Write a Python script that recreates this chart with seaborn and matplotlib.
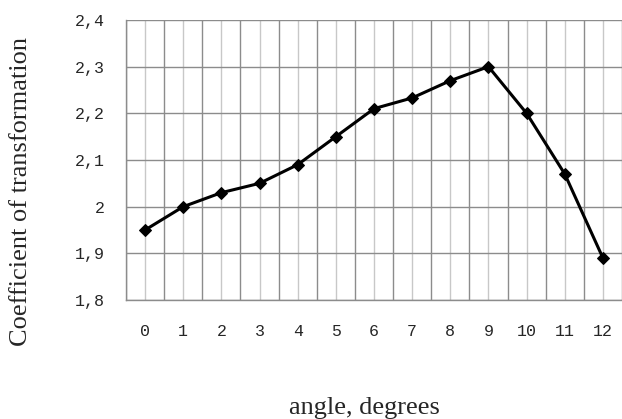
import matplotlib
matplotlib.use("Agg")
import matplotlib.pyplot as plt
import numpy as np
import pandas as pd
import seaborn as sns

# Data
angles = [0, 1, 2, 3, 4, 5, 6, 7, 8, 9, 10, 11, 12]
coefficient = [1.95, 2.00, 2.03, 2.05, 2.09, 2.15, 2.21, 2.233, 2.27, 2.30, 2.20, 2.07, 1.89]
y_ticks = [1.8, 1.9, 2.0, 2.1, 2.2, 2.3, 2.4]
y_labels = ["1,8", "1,9", "2", "2,1", "2,2", "2,3", "2,4"]

df = pd.DataFrame({"angle": angles, "coef": coefficient})

sns.set_style("white")
plt.rcParams["font.family"] = ["Liberation Serif", "DejaVu Serif"]

fig = plt.figure(figsize=(6.22, 4.19), dpi=100)
ax = fig.add_axes([126 / 622, 119 / 419, 496 / 622, 280 / 419])

sns.lineplot(data=df, x="angle", y="coef", color="black", linewidth=2.2,
             marker="D", markersize=6, markeredgecolor="black", ax=ax, zorder=5)

ax.set_xlim(-0.5, 12.39)
ax.set_ylim(1.8, 2.4)

tick_font = {"family": "Liberation Mono", "size": 12}

# labels at category centres, tick marks at category boundaries
ax.set_xticks(angles)
ax.set_xticklabels([str(a) for a in angles], fontdict=tick_font)
ax.set_xticks(np.arange(-0.5, 13, 1), minor=True)
ax.tick_params(axis="x", which="major", length=0, pad=17)
ax.tick_params(axis="x", which="minor", length=6, width=1, color="#888888", direction="out")

ax.set_yticks(y_ticks)
ax.set_yticklabels(y_labels, fontdict=tick_font)
ax.tick_params(axis="y", which="major", length=6, width=1, color="#888888", pad=9, direction="out")

ax.grid(False)
for x in np.arange(-0.5, 13, 1):
    ax.axvline(x, color="#8c8c8c", linewidth=1, zorder=1)
for x in angles:
    ax.axvline(x, color="#c8c8c8", linewidth=1, zorder=1)
for y in y_ticks:
    ax.axhline(y, color="#8c8c8c", linewidth=1, zorder=1)

for side in ["top", "right"]:
    ax.spines[side].set_visible(False)
for side in ["left", "bottom"]:
    ax.spines[side].set_color("#8c8c8c")
    ax.spines[side].set_linewidth(1)

ax.set_xlabel("angle, degrees", fontsize=19)
ax.set_ylabel("Coefficient of transformation", fontsize=19)
ax.xaxis.set_label_coords((364 - 126) / 496, -0.345)
ax.yaxis.set_label_coords(-0.19, 0.386)

fig.savefig("out.png", dpi=100)
